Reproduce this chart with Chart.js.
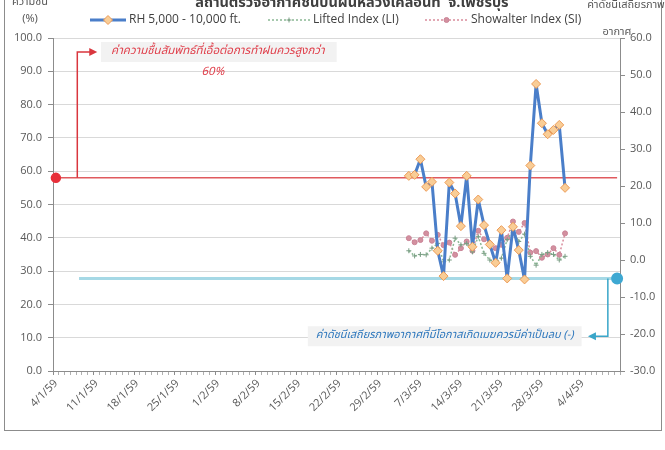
<!DOCTYPE html>
<html lang="th">
<head>
<meta charset="UTF-8">
<title>RH and stability index - Phetchaburi</title>
<script src="https://cdn.jsdelivr.net/npm/chart.js"></script>
<style>
  body { margin: 0; background: #fff; overflow: hidden; }
  .frame { position: absolute; left: 4px; top: -2px; width: 656px; height: 431px; border: 1px solid #8c8c8c; }
  .wrap { position: absolute; left: 0; top: 0; width: 665px; height: 450px; }
</style>
</head>
<body>
<div class="frame"></div>
<div class="wrap"><canvas id="chart" width="665" height="450"></canvas></div>
<script>
// axis runs day by day from 4/1/59 (4 Jan 2016)
var startDate = new Date(2016, 0, 4);
var dayCount = 98;
var firstDataDay = 61; // 5/3/59

var tickLabels = ['4/1/59', '11/1/59', '18/1/59', '25/1/59', '1/2/59', '8/2/59', '15/2/59',
                  '22/2/59', '29/2/59', '7/3/59', '14/3/59', '21/3/59', '28/3/59', '4/4/59'];

// relative humidity 5,000 - 10,000 ft (%), 5/3/59 .. 1/4/59
var rhValues = [58.6, 58.9, 63.6, 55.3, 56.8, 36.1, 28.5, 56.6, 53.3, 43.5, 58.6, 37.3, 51.5, 43.8,
                38.0, 32.5, 42.3, 27.8, 43.3, 36.3, 27.5, 61.7, 86.2, 74.4, 71.1, 72.4, 73.9, 55.0];
// lifted index
var liValues = [2.5, 1.1, 1.5, 1.4, 3.2, 4.5, -0.5, 0.0, 5.9, 4.1, 4.5, 2.2, 6.3, 1.8,
                0.0, -0.7, 0.5, 5.5, 8.0, 5.0, 7.0, 1.0, -1.4, 1.5, 2.0, 1.5, 0.0, 1.0];
// showalter index
var siValues = [5.9, 4.8, 5.4, 7.2, 5.2, 6.8, 4.0, 4.7, 1.4, 3.2, 5.0, 2.5, 7.9, 5.6,
                4.5, 3.2, 4.1, 6.0, 10.4, 7.6, 10.0, 2.0, 2.4, 0.6, 1.5, 3.2, 1.4, 7.2];

var rhThreshold = 58;
var indexThreshold = -5;

var thaiFont = '"Noto Sans Thai", "Noto Sans Thai UI", Loma, Garuda, Tahoma, "DejaVu Sans", sans-serif';
var tickFont = '"Open Sans", "Noto Sans", sans-serif';

var dayLabels = [];
for (var i = 0; i < dayCount; i++) {
    var d = new Date(startDate.getFullYear(), startDate.getMonth(), startDate.getDate() + i);
    dayLabels.push(d.getDate() + '/' + (d.getMonth() + 1) + '/' + ((d.getFullYear() + 543) % 100));
}

function pad(values) {
    var out = [];
    for (var i = 0; i < dayCount; i++) {
        var k = i - firstDataDay;
        out.push(k >= 0 && k < values.length ? values[k] : null);
    }
    return out;
}
function flat(value, from) {
    var out = [];
    for (var i = 0; i < dayCount; i++) out.push(i >= from ? value : null);
    return out;
}

// titles, legend and the two call-outs
var extras = {
    id: 'extras',
    afterDraw: function(chart) {
        var ctx = chart.ctx;
        var x = chart.scales.x, y = chart.scales.y, y1 = chart.scales.y1;
        ctx.save();
        ctx.textBaseline = 'middle';

        // titles
        ctx.fillStyle = '#404040';
        ctx.textAlign = 'center';
        ctx.font = 'bold 14.5px ' + thaiFont;
        ctx.fillText('สถานีตรวจอากาศชั้นบนฝนหลวงเคลื่อนที่  จ.เพชรบุรี', 352, 4);
        ctx.font = '11px ' + thaiFont;
        ctx.fillStyle = '#595959';
        ctx.fillText('ความชื้น', 30, 3);
        ctx.fillText('(%)', 30, 20);
        ctx.fillText('ค่าดัชนีเสถียรภาพ', 626, 6);
        ctx.fillText('อากาศ', 617, 33);

        // legend
        var ds = chart.data.datasets;
        var items = [[ds[0], 90, 126], [ds[1], 268, 310], [ds[2], 425, 468]];
        items.forEach(function(it) {
            var set = it[0], x0 = it[1], x1 = it[2], ly = 20;
            ctx.save();
            ctx.strokeStyle = set.borderColor;
            ctx.lineWidth = set.borderWidth;
            ctx.setLineDash(set.borderDash || []);
            ctx.beginPath(); ctx.moveTo(x0, ly); ctx.lineTo(x1, ly); ctx.stroke();
            ctx.restore();
            ctx.fillStyle = set.pointBackgroundColor;
            ctx.strokeStyle = set.pointBorderColor;
            ctx.lineWidth = set.pointBorderWidth || 1;
            Chart.helpers.drawPoint(ctx, {
                pointStyle: set.pointStyle, radius: set.pointRadius, borderWidth: set.pointBorderWidth || 1
            }, (x0 + x1) / 2, ly);
            ctx.fillStyle = '#404040';
            ctx.textAlign = 'left';
            ctx.font = '12px ' + tickFont;
            ctx.fillText(set.label, x1 + 3, ly);
        });

        // red call-out: RH threshold
        var rx = x.getPixelForValue(3.7), ry0 = y.getPixelForValue(rhThreshold), ry1 = y.getPixelForValue(95.8);
        var rEnd = x.getPixelForValue(6.8);
        ctx.strokeStyle = '#d9363e';
        ctx.fillStyle = '#d9363e';
        ctx.lineWidth = 1.5;
        ctx.beginPath(); ctx.moveTo(rx, ry0); ctx.lineTo(rx, ry1); ctx.lineTo(rEnd - 5, ry1); ctx.stroke();
        ctx.beginPath(); ctx.moveTo(rEnd + 2, ry1); ctx.lineTo(rEnd - 6, ry1 - 4); ctx.lineTo(rEnd - 6, ry1 + 4); ctx.closePath(); ctx.fill();

        var redText = 'ค่าความชื้นสัมพัทธ์ที่เอื้อต่อการทำฝนควรสูงกว่า';
        var rcx = x.getPixelForValue(28);
        ctx.font = 'italic 11.5px ' + thaiFont;
        var rw = ctx.measureText(redText).width;
        var rLeft = x.getPixelForValue(7.8);
        ctx.fillStyle = '#f2f2f2';
        ctx.fillRect(rLeft, ry1 - 10, rcx - rLeft + rw / 2 + 12, 20);
        ctx.fillStyle = '#e0404c';
        ctx.textAlign = 'center';
        ctx.fillText(redText, rcx, ry1);
        ctx.fillText('60%', rcx - 5, y.getPixelForValue(89.6));

        // blue call-out: stability index threshold
        var bx = x.getPixelForValue(95.4), by0 = y1.getPixelForValue(indexThreshold), by1 = y1.getPixelForValue(-20.6);
        var bEnd = x.getPixelForValue(92.3);
        ctx.strokeStyle = '#3aa6c9';
        ctx.fillStyle = '#3aa6c9';
        ctx.beginPath(); ctx.moveTo(bx, by0); ctx.lineTo(bx, by1); ctx.lineTo(bEnd + 5, by1); ctx.stroke();
        ctx.beginPath(); ctx.moveTo(bEnd - 2, by1); ctx.lineTo(bEnd + 6, by1 - 4); ctx.lineTo(bEnd + 6, by1 + 4); ctx.closePath(); ctx.fill();

        var blueText = 'ค่าดัชนีเสถียรภาพอากาศที่มีโอกาสเกิดเมฆควรมีค่าเป็นลบ (-)';
        var bcx = x.getPixelForValue(67.2);
        ctx.font = 'italic 11px ' + thaiFont;
        var bw = ctx.measureText(blueText).width;
        ctx.fillStyle = '#f2f2f2';
        ctx.fillRect(bcx - bw / 2 - 8, by1 - 10, bw + 16, 20);
        ctx.fillStyle = '#2f78bd';
        ctx.fillText(blueText, bcx, by1);
        ctx.restore();
    }
};

var ctx = document.getElementById('chart').getContext('2d');
var chart = new Chart(ctx, {
    type: 'line',
    data: {
        labels: dayLabels,
        datasets: [{
            label: 'RH 5,000 - 10,000 ft.',
            data: pad(rhValues),
            yAxisID: 'y',
            borderColor: '#4a7ec9',
            borderWidth: 3,
            borderJoinStyle: 'round',
            pointStyle: 'rectRot',
            pointRadius: 4.5,
            pointBackgroundColor: '#f9cd96',
            pointBorderColor: '#ec9a55',
            pointBorderWidth: 1
        }, {
            label: 'Lifted Index (LI)',
            data: pad(liValues),
            yAxisID: 'y1',
            borderColor: '#8ab894',
            borderWidth: 1.5,
            borderDash: [2, 2],
            pointStyle: 'cross',
            pointRadius: 2.5,
            pointBackgroundColor: '#7a9e84',
            pointBorderColor: '#7a9e84',
            pointBorderWidth: 1
        }, {
            label: 'Showalter Index (SI)',
            data: pad(siValues),
            yAxisID: 'y1',
            borderColor: '#d98c9c',
            borderWidth: 1.5,
            borderDash: [2, 2],
            pointStyle: 'circle',
            pointRadius: 2.5,
            pointBackgroundColor: '#d3909f',
            pointBorderColor: '#c98497',
            pointBorderWidth: 1
        }, {
            label: 'rh-threshold',
            data: flat(rhThreshold, 0),
            yAxisID: 'y',
            borderColor: '#e05a5e',
            borderWidth: 1.5,
            pointRadius: function(c) { return c.dataIndex === 0 ? 4.5 : 0; },
            pointBackgroundColor: '#e8303a',
            pointBorderColor: '#e8303a'
        }, {
            label: 'index-threshold',
            data: flat(indexThreshold, 4),
            yAxisID: 'y1',
            borderColor: '#a6d9e6',
            borderWidth: 3,
            pointRadius: function(c) { return c.dataIndex === dayCount - 1 ? 4.5 : 0; },
            pointBackgroundColor: '#3ea8d2',
            pointBorderColor: '#3ea8d2'
        }]
    },
    options: {
        responsive: false,
        animation: false,
        layout: { padding: { top: 38, left: 0, right: 0, bottom: 0 } },
        plugins: {
            legend: { display: false },
            title: { display: false },
            tooltip: { enabled: false }
        },
        elements: { line: { tension: 0 } },
        scales: {
            x: {
                type: 'category',
                offset: true,
                grid: {
                    offset: true,
                    drawOnChartArea: false,
                    tickLength: 4,
                    tickColor: function(c) { return c.index % 7 === 0 ? '#8c8c8c' : '#b0b0b0'; }
                },
                border: { color: '#8c8c8c' },
                ticks: {
                    autoSkip: false,
                    maxRotation: 45,
                    minRotation: 45,
                    padding: 2,
                    color: '#595959',
                    font: { family: tickFont, size: 11 },
                    callback: function(v) {
                        var l = this.getLabelForValue(v);
                        return tickLabels.indexOf(l) >= 0 ? l : '';
                    }
                },
                afterFit: function(s) { s.height = 79; }
            },
            y: {
                position: 'left',
                min: 0,
                max: 100,
                grid: { color: '#d9d9d9', tickLength: 5, tickColor: '#8c8c8c' },
                border: { color: '#8c8c8c' },
                ticks: {
                    stepSize: 10,
                    padding: 6,
                    color: '#595959',
                    font: { family: tickFont, size: 11 },
                    callback: function(v) { return v.toFixed(1); }
                },
                afterFit: function(s) { s.width = 53; }
            },
            y1: {
                position: 'right',
                min: -30,
                max: 60,
                grid: { drawOnChartArea: false, tickLength: 5, tickColor: '#8c8c8c' },
                border: { color: '#8c8c8c' },
                ticks: {
                    stepSize: 10,
                    padding: 5,
                    color: '#595959',
                    font: { family: tickFont, size: 11 },
                    callback: function(v) { return v.toFixed(1); }
                },
                afterFit: function(s) { s.width = 45; }
            }
        }
    },
    plugins: [extras]
});
</script>
</body>
</html>
